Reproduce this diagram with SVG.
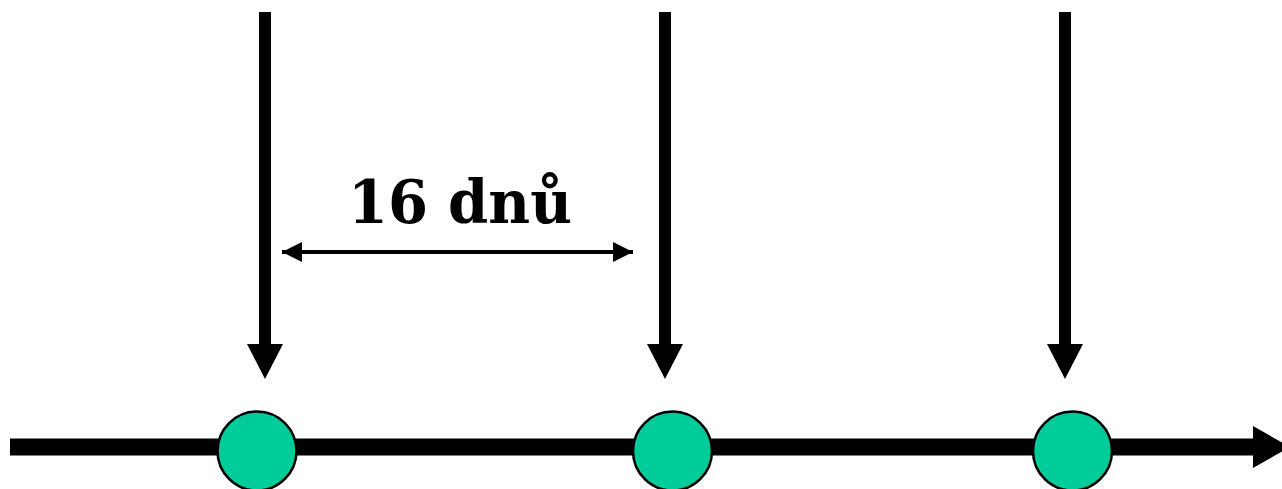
<svg xmlns="http://www.w3.org/2000/svg" width="1282" height="489" viewBox="0 0 1282 489">
<style>
.shaft{stroke:#000;stroke-width:12;fill:none}
.head{fill:#000}
.node{fill:#00CC99;stroke:#000;stroke-width:2.5}
.lbl{font-family:"DejaVu Serif","Liberation Serif",serif;font-weight:bold;font-size:60px;fill:#000}
</style>
<defs>
<marker id="dh" viewBox="0 0 10 10" refX="10" refY="5" markerWidth="5" markerHeight="5" orient="auto-start-reverse" markerUnits="strokeWidth">
<path d="M0,0 L10,5 L0,10 Z" fill="#000"/>
</marker>
</defs>
<g id="connectors">
<path id="axis" d="M10,447 H1256" stroke="#000" stroke-width="17" fill="none"/>
<polygon points="1253,426 1290,447 1253,468" class="head"/>
<path class="shaft" d="M265,12 V346"/>
<polygon class="head" points="247,344 283,344 265,379"/>
<path class="shaft" d="M665,12 V346"/>
<polygon class="head" points="647,344 683,344 665,379"/>
<path class="shaft" d="M1065,12 V346"/>
<polygon class="head" points="1047,344 1083,344 1065,379"/>
<path d="M282,252 H633" stroke="#000" stroke-width="4" marker-start="url(#dh)" marker-end="url(#dh)"/>
</g>
<g id="node1"><circle class="node" cx="257" cy="451" r="39.5"/></g>
<g id="node2"><circle class="node" cx="672.5" cy="451" r="39.5"/></g>
<g id="node3"><circle class="node" cx="1072.5" cy="451" r="39.5"/></g>
<g id="label"><text class="lbl" x="460" y="223" text-anchor="middle" textLength="224" lengthAdjust="spacingAndGlyphs">16 dnů</text></g>
</svg>
